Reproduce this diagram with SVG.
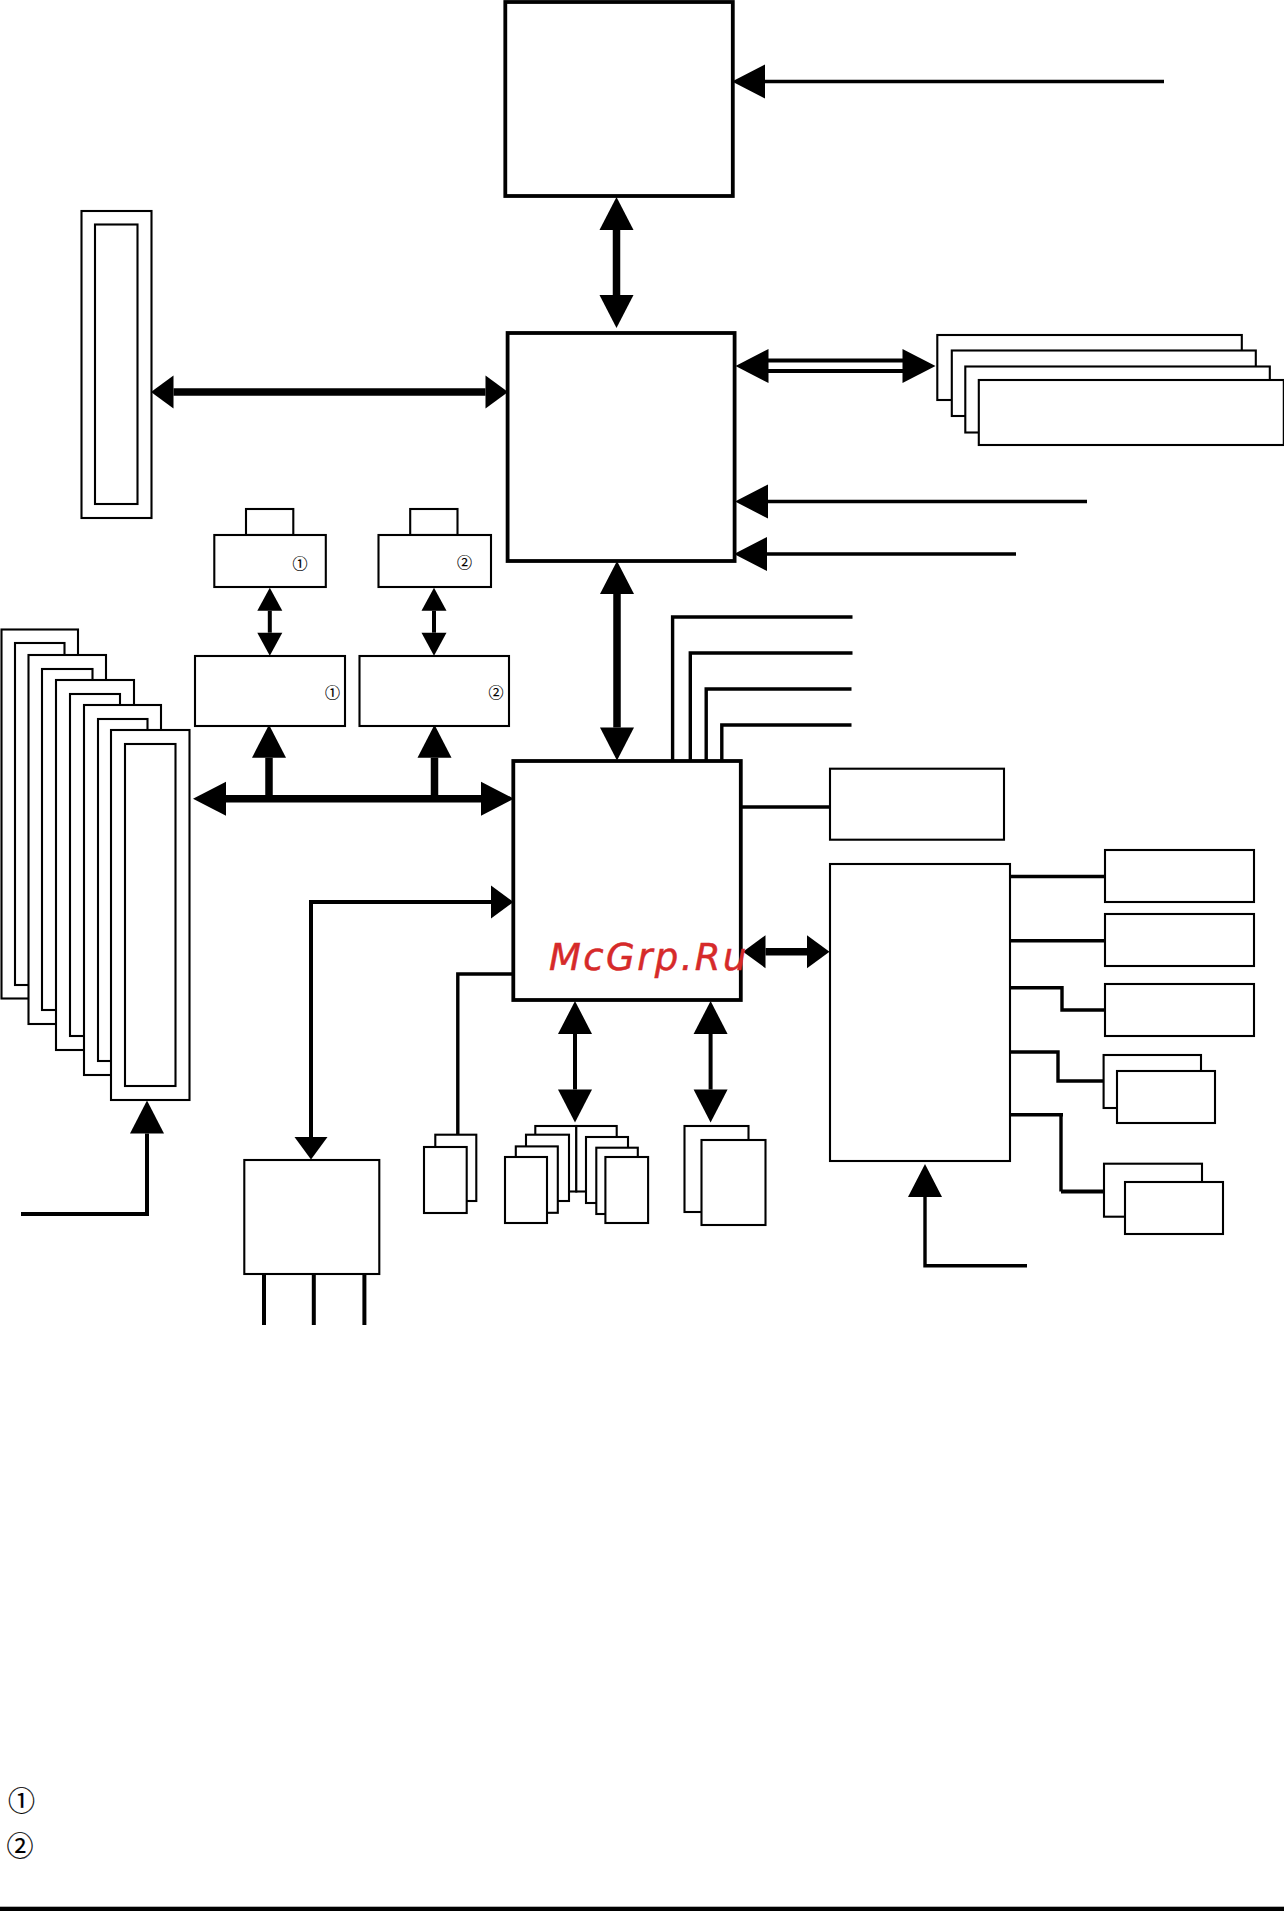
<svg xmlns="http://www.w3.org/2000/svg" width="1284" height="1911" viewBox="0 0 1284 1911">
<style>
.b{fill:#fff;stroke:#000;stroke-width:2.1}
.h{fill:#fff;stroke:#000;stroke-width:3.8}
.l{fill:none;stroke:#000;stroke-width:3.4;stroke-linejoin:miter}
.m{fill:none;stroke:#000;stroke-width:4}
.t{fill:none;stroke:#000;stroke-width:7.5}
.n{font-family:"Noto Sans CJK JP","DejaVu Sans",sans-serif;fill:#000;stroke:#000;stroke-width:.2;text-anchor:middle}
.a33{marker-end:url(#m33)}
.s33{marker-start:url(#m33)}
.a22{marker-end:url(#m22)}
.s22{marker-start:url(#m22)}
.a23{marker-end:url(#m23)}
.s23{marker-start:url(#m23)}
</style>
<defs>
<marker id="m33" markerUnits="userSpaceOnUse" markerWidth="34" markerHeight="34" refX="0" refY="17" orient="auto-start-reverse" overflow="visible"><path d="M0 0L33 17L0 34Z"/></marker>
<marker id="m22" markerUnits="userSpaceOnUse" markerWidth="23" markerHeight="34" refX="0" refY="16.5" orient="auto-start-reverse" overflow="visible"><path d="M0 0L22.5 16.5L0 33Z"/></marker>
<marker id="m23" markerUnits="userSpaceOnUse" markerWidth="23" markerHeight="26" refX="0" refY="12.5" orient="auto-start-reverse" overflow="visible"><path d="M0 0L23 12.5L0 25Z"/></marker>
</defs>
<g id="connectors">
<path class="l a33" d="M1164 81.5H765"/>
<path class="t s33 a33" d="M616.5 230V295"/>
<path class="s33 a33" style="stroke:none;fill:none" d="M768.5 366H902.5"/>
<path class="m" d="M767 360.5H903M767 371H903"/>
<path class="l a33" d="M1087 501.5H768"/>
<path class="l a33" d="M1016 554H767"/>
<path class="t s22 a22" d="M173.5 392H485.5"/>
<path class="m s23 a23" d="M269.8 610.7V632.7"/>
<path class="m s23 a23" d="M434 610.7V632.7"/>
<path class="t a33" d="M269 799V757.7"/>
<path class="t a33" d="M434.5 799V757.7"/>
<path class="t s33 a33" d="M226 798.7H481"/>
<path class="t s33 a33" d="M617 594V727.5"/>
<path class="m a33" d="M21 1214H147V1133.5"/>
<path class="m s22 a22" d="M491 902H311V1137"/>
<path class="l" d="M513 974H457.8V1135"/>
<path class="m" d="M264 1274V1325M313.8 1274V1325M364.4 1274V1325"/>
<path class="m s33 a33" d="M575 1034V1089.5"/>
<path class="m s33 a33" d="M710.6 1034V1089.5"/>
<path class="l" d="M672.6 761V617H852.5"/>
<path class="l" d="M690.3 761V653H852.5"/>
<path class="l" d="M706.2 761V689H851.5"/>
<path class="l" d="M721.8 761V725H851.5"/>
<path class="l" d="M741 807H830"/>
<path class="t s22 a22" d="M765.5 951.7H807"/>
<path class="l" d="M1010 876.5H1105"/>
<path class="l" d="M1010 940.8H1105"/>
<path class="l" d="M1010 987.7H1062V1010H1105"/>
<path class="l" d="M1010 1052H1058V1081H1103"/>
<path class="l" d="M1010 1114.7H1063"/>
<path class="l" d="M1061 1114.7V1191.5"/>
<path class="m" d="M1061 1191.5H1104"/>
<path class="l a33" d="M1027 1265.7H925V1197"/>
</g>
<g id="cpu"><rect class="h" x="505.3" y="2" width="227.5" height="194"/></g>
<g id="north-bridge"><rect class="h" x="507.6" y="333" width="227" height="228"/></g>
<g id="south-bridge"><rect class="h" x="513.3" y="761" width="227.5" height="239"/></g>
<g id="agp-slot"><rect class="b" x="81.5" y="211" width="70" height="307"/><rect class="b" x="95" y="224.5" width="42.5" height="279.5"/></g>
<g id="memory-stack">
<rect class="b" x="937.3" y="335" width="304.5" height="65"/>
<rect class="b" x="951.8" y="350.5" width="304" height="65.5"/>
<rect class="b" x="965.3" y="366.5" width="304.5" height="66"/>
<rect class="b" x="978.8" y="380" width="305" height="65"/>
</g>
<g id="pci-slot-1"><rect class="b" x="1.5" y="629.5" width="76.5" height="369"/><rect class="b" x="15" y="643" width="49.5" height="342"/></g>
<g id="pci-slot-2"><rect class="b" x="28.5" y="655" width="77.5" height="369"/><rect class="b" x="42" y="669" width="50.5" height="341"/></g>
<g id="pci-slot-3"><rect class="b" x="56" y="680" width="78" height="370"/><rect class="b" x="70" y="694" width="50" height="342"/></g>
<g id="pci-slot-4"><rect class="b" x="84" y="705" width="77" height="370"/><rect class="b" x="98" y="719" width="49.5" height="342"/></g>
<g id="pci-slot-5"><rect class="b" x="111" y="730" width="78.5" height="370"/><rect class="b" x="125" y="744" width="50.5" height="342"/></g>
<g id="port-1"><rect class="b" x="246" y="509" width="47.3" height="26"/><rect class="b" x="214.3" y="535" width="111.5" height="52"/><text class="n" x="300" y="568.5" font-size="15">①</text></g>
<g id="port-2"><rect class="b" x="410.2" y="509" width="47.3" height="26"/><rect class="b" x="378.5" y="535" width="112.5" height="52"/><text class="n" x="464.5" y="567.5" font-size="15">②</text></g>
<g id="controller-1"><rect class="b" x="195" y="656" width="150" height="70"/><text class="n" x="332.5" y="698" font-size="15">①</text></g>
<g id="controller-2"><rect class="b" x="359.5" y="656" width="149.5" height="70"/><text class="n" x="496" y="698" font-size="15">②</text></g>
<g id="audio-box"><rect class="b" x="244.3" y="1160" width="135" height="114"/></g>
<g id="cd-stack"><rect class="b" x="435.3" y="1134.7" width="41" height="66.3"/><rect class="b" x="424" y="1147" width="42.7" height="66"/></g>
<g id="ide-stack-left">
<rect class="b" x="535.3" y="1126" width="41" height="65.5"/>
<rect class="b" x="526" y="1134.7" width="43" height="66.3"/>
<rect class="b" x="515.8" y="1146.4" width="42" height="66.4"/>
<rect class="b" x="505" y="1157" width="42" height="66"/>
</g>
<g id="ide-stack-right">
<rect class="b" x="576.3" y="1126" width="40.4" height="65.5"/>
<rect class="b" x="586" y="1137" width="42" height="66"/>
<rect class="b" x="596.3" y="1147.7" width="41.5" height="66.3"/>
<rect class="b" x="605.4" y="1157" width="42.7" height="66"/>
</g>
<g id="usb-stack"><rect class="b" x="684.5" y="1126" width="64" height="86"/><rect class="b" x="701.5" y="1140" width="64" height="85"/></g>
<g id="lan-box"><rect class="b" x="830" y="768.7" width="174" height="71"/></g>
<g id="super-io"><rect class="b" x="830" y="864" width="180" height="297"/></g>
<g id="io-1"><rect class="b" x="1105" y="850" width="149" height="52"/></g>
<g id="io-2"><rect class="b" x="1105" y="914" width="149" height="52"/></g>
<g id="io-3"><rect class="b" x="1105" y="984" width="149" height="52"/></g>
<g id="io-4"><rect class="b" x="1103.6" y="1055" width="97.4" height="53"/><rect class="b" x="1117" y="1071" width="98" height="52"/></g>
<g id="io-5"><rect class="b" x="1104" y="1163.7" width="98" height="53"/><rect class="b" x="1125" y="1182" width="98" height="52"/></g>
<g id="legend">
<text class="n" x="21.5" y="1811" font-size="27">①</text>
<text class="n" x="20" y="1855.5" font-size="27">②</text>
<rect x="0" y="1906.7" width="1284" height="4.3" fill="#000"/>
</g>
<text id="watermark" x="549" y="970" font-family="DejaVu Sans,sans-serif" font-style="oblique" font-size="37" letter-spacing="2.4" fill="#d62a2a" stroke="#d62a2a" stroke-width=".5">McGrp.Ru</text>
</svg>
